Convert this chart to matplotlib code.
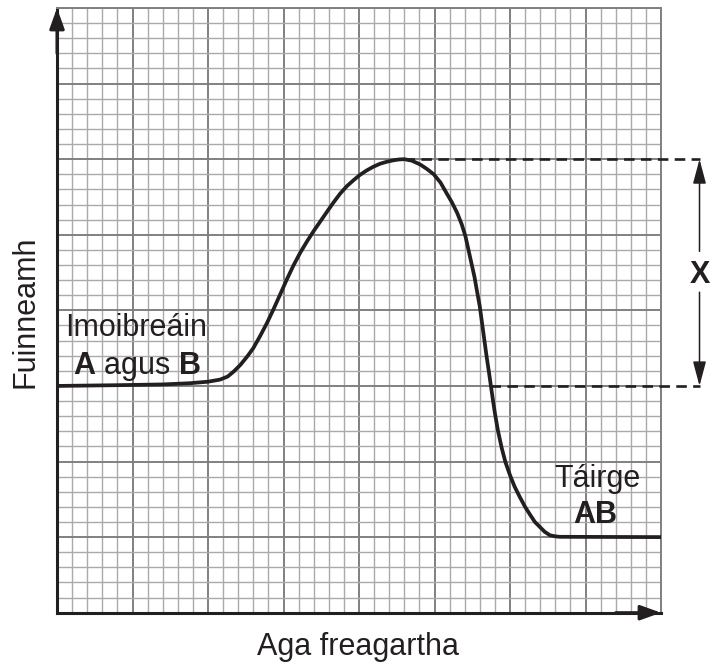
import numpy as np
import matplotlib
matplotlib.use("Agg")
import matplotlib.pyplot as plt

plt.rcParams['font.family'] = ['Liberation Sans', 'DejaVu Sans']
plt.rcParams['mathtext.fontset'] = 'custom'
plt.rcParams['mathtext.rm'] = 'Liberation Sans'
plt.rcParams['mathtext.bf'] = 'Liberation Sans:bold'

# energy profile (1 unit = 1 small square)
path_x = [0, 4, 7, 8.8, 10.0, 10.8, 11.3, 11.7, 12.15, 12.6, 13.0, 13.45, 13.9,
          14.35, 14.8, 15.2, 15.65, 16.1, 16.55, 17.0, 17.45, 17.9, 18.3, 18.75,
          19.2, 19.65, 20.05, 20.5, 20.95, 21.4, 21.85, 22.3, 22.65, 23.0, 23.5,
          24.05, 24.5, 24.95, 25.4, 25.8, 26.15, 26.5, 26.8, 27.05, 27.25, 27.45,
          27.65, 27.8, 28.0, 28.15, 28.3, 28.45, 28.6, 28.7, 28.85, 29.0, 29.2,
          29.45, 29.7, 30.0, 30.3, 30.65, 31.0, 31.35, 31.65, 32.0, 32.3, 32.65,
          33.0, 33.3, 40]
path_y = [15.0, 15.05, 15.1, 15.18, 15.28, 15.42, 15.62, 15.95, 16.4, 16.95, 17.5,
          18.3, 19.15, 20.1, 21.1, 22.0, 22.95, 23.8, 24.55, 25.25, 25.9, 26.55,
          27.12, 27.72, 28.22, 28.62, 28.95, 29.25, 29.5, 29.7, 29.83, 29.93,
          29.98, 30.0, 29.9, 29.65, 29.35, 29.0, 28.45, 27.75, 27.15, 26.45, 25.7,
          24.9, 24.0, 23.1, 22.2, 21.35, 20.25, 19.15, 18.05, 16.95, 15.95, 15.25,
          14.2, 13.2, 12.05, 10.9, 9.95, 9.1, 8.35, 7.65, 7.0, 6.45, 6.0, 5.65,
          5.35, 5.12, 5.05, 5.02, 5.0]

grid_size = 40
major_ticks = list(range(0, 41, 5))
minor_ticks = list(range(0, 41, 1))

peak_x, peak_y = 23.0, 30.0
reactant_y = 15.0
cross_x = 28.7        # where the falling curve meets the reactant level
bracket_x = 42.55     # the X bracket, right of the grid
dash_end = 42.6

ink = '#231f20'

fig = plt.figure(figsize=(7.1, 6.64), dpi=100)
ax = fig.add_axes([57 / 710, (664 - 612.7) / 664, 604 / 710, 604.7 / 664])
ax.set_xlim(0, grid_size)
ax.set_ylim(0, grid_size)
ax.set_xticks(major_ticks)
ax.set_yticks(major_ticks)
ax.set_xticks(minor_ticks, minor=True)
ax.set_yticks(minor_ticks, minor=True)
ax.tick_params(which='both', length=0, labelbottom=False, labelleft=False)
ax.grid(which='minor', color='#aaaaaa', lw=1.0)
ax.grid(which='major', color='#808080', lw=1.4)
ax.set_axisbelow(True)

for side in ['top', 'right']:
    ax.spines[side].set_color('#808080')
    ax.spines[side].set_linewidth(1.4)
for side in ['left', 'bottom']:
    ax.spines[side].set_color(ink)
    ax.spines[side].set_linewidth(2.2)

# axis arrow heads
head = '-|>,head_length=1.25,head_width=0.45'
ax.annotate('', xy=(0, grid_size), xytext=(0, grid_size - 3), annotation_clip=False,
            arrowprops=dict(arrowstyle=head, color=ink, lw=2.2, shrinkA=0, shrinkB=0))
ax.annotate('', xy=(grid_size, 0), xytext=(grid_size - 3, 0), annotation_clip=False,
            arrowprops=dict(arrowstyle=head, color=ink, lw=2.2, shrinkA=0, shrinkB=0))

# the curve
ax.plot(path_x, path_y, color=ink, lw=2.7, solid_capstyle='butt',
        solid_joinstyle='round', zorder=5)

# dashed guide lines
ax.plot([peak_x, dash_end], [peak_y, peak_y], color=ink, lw=1.9,
        dashes=(4, 2.4), clip_on=False, zorder=4)
ax.plot([cross_x, dash_end], [reactant_y, reactant_y], color=ink, lw=1.9,
        dashes=(4, 2.4), clip_on=False, zorder=4)

# X bracket
small_head = '-|>,head_length=1.5,head_width=0.4'
ax.annotate('', xy=(bracket_x, peak_y), xytext=(bracket_x, 23.9), annotation_clip=False,
            arrowprops=dict(arrowstyle=small_head, color=ink, lw=1.1, shrinkA=0, shrinkB=0))
ax.annotate('', xy=(bracket_x, reactant_y), xytext=(bracket_x, 21.2), annotation_clip=False,
            arrowprops=dict(arrowstyle=small_head, color=ink, lw=1.1, shrinkA=0, shrinkB=0))
ax.text(bracket_x, 21.81, 'X', fontsize=22, fontweight='bold', color=ink,
        ha='center', va='baseline', clip_on=False)

# labels on the chart
ax.text(5.23, 18.32, 'Imoibreáin', fontsize=22, color=ink, ha='center', va='baseline')
ax.text(5.28, 15.81, r'$\mathbf{A}$ agus $\mathbf{B}$', fontsize=22, color=ink,
        ha='center', va='baseline')
ax.text(35.8, 8.34, 'Táirge', fontsize=22, color=ink, ha='center', va='baseline')
ax.text(35.63, 5.94, 'AB', fontsize=22, fontweight='bold', color=ink,
        ha='center', va='baseline')

# axis titles
fig.text(358 / 710, 1 - 655 / 664, 'Aga freagartha', fontsize=22, color=ink,
         ha='center', va='baseline')
fig.text(33.5 / 710, 1 - 311.5 / 664, 'Fuinneamh', fontsize=22, color=ink,
         rotation=90, rotation_mode='anchor', ha='center', va='baseline')

fig.savefig('out.png', dpi=100)
